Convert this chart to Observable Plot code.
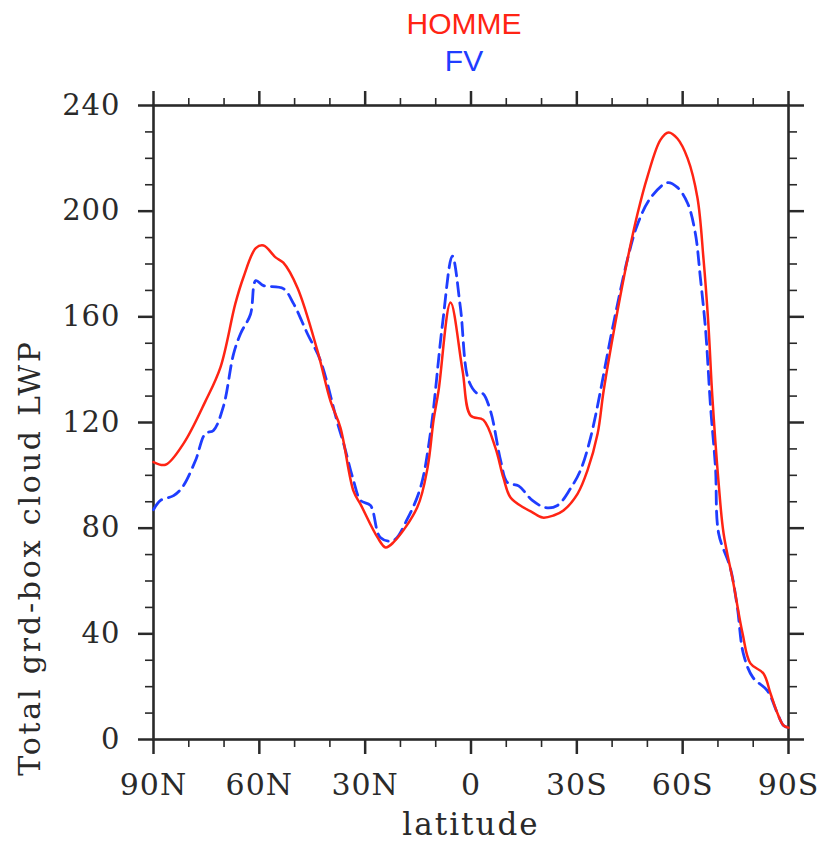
<!DOCTYPE html>
<html>
<head>
<meta charset="utf-8">
<script src="https://cdn.jsdelivr.net/npm/d3@7"></script>
<script src="https://cdn.jsdelivr.net/npm/@observablehq/plot@0.6"></script>
<style>
  html, body { margin: 0; padding: 0; background: #fff; }
</style>
</head>
<body>
<div id="chart"></div>
<script>
// HOMME (red, solid)
const hommeLat = [90, 86.6, 81.5, 75.3, 71, 66.8, 64.5, 61, 58.8, 55.4, 53.2, 49.2, 43.5, 39.8, 37, 33.3, 31.3, 26.5, 24.2, 22, 15.2, 12.3, 10.6, 9.2, 5.8, 2.4, 0.1, -3.5, -6.9, -9.2, -11.2, -14.9, -17.4, -20.3, -23.4, -26.2, -30.2, -33, -35.9, -37.6, -41.5, -44.4, -47.2, -50, -53.7, -56, -58.5, -61.4, -64.2, -65.9, -67.3, -68.4, -70.2, -71.6, -74.4, -77, -79.2, -82.9, -84.9, -86.9, -88.6, -90];
const hommeVal = [105, 104, 112, 128, 141, 165, 175, 186, 187, 182.5, 180.5, 171, 147, 128, 118, 94, 89, 76.5, 72.7, 74.6, 88, 103, 121, 132, 165.4, 139.7, 122.6, 121, 110.5, 99, 91.6, 87.8, 86, 84, 84.8, 86.7, 93, 101.8, 115.8, 132, 162, 182, 199, 213, 227, 229.8, 227.5, 220, 205, 182, 157, 130, 97, 78, 59, 40, 28.8, 25, 17.4, 9.8, 5.3, 4.5];

// FV (blue, dashed)
const fvLat = [90, 88, 84.3, 81.8, 78.1, 75.3, 73, 70.2, 67.3, 65.3, 62.5, 61, 58.8, 53.2, 50.3, 46.4, 42.7, 37.8, 36.1, 33.3, 31.3, 28.5, 25.7, 22, 18, 14.3, 11.5, 8.1, 5.3, 3, 0.7, -1.8, -3.3, -5.5, -8.4, -10.3, -13.5, -17.4, -21.1, -24.5, -28.2, -31, -33.9, -40.4, -44.4, -47.2, -50.9, -55.7, -58.5, -61.4, -63.6, -65, -66.5, -67.9, -69.3, -70.2, -73.5, -75.5, -77.2, -79.9, -84, -86.9, -88.6, -90];
const fvVal = [87, 90.5, 92.3, 95.5, 105.6, 115.8, 117, 126, 146, 153.7, 161, 173.7, 171.8, 170.7, 165, 153.7, 143.5, 119.6, 112, 98, 90.5, 88.6, 76.5, 75.3, 83.6, 95.5, 116, 157, 183, 163.5, 136, 131, 131, 124.5, 105.6, 97.3, 96, 90.5, 87.8, 88.6, 95, 101.8, 114.3, 157.5, 182, 195, 205, 210.8, 209, 203, 191.5, 175, 155, 126, 103, 78, 65, 50, 32.5, 23.5, 18.5, 9.8, 5.3, 4.5];

// Axis ticks
const xTickValues = [90, 60, 30, 0, -30, -60, -90];
const xTickLabels = ["90N", "60N", "30N", "0", "30S", "60S", "90S"];
const xMinorTicks = [80, 70, 50, 40, 20, 10, -10, -20, -40, -50, -70, -80];
const yTickValues = [0, 40, 80, 120, 160, 200, 240];
const yMinorTicks = [10, 20, 30, 50, 60, 70, 90, 100, 110, 130, 140, 150, 170, 180, 190, 210, 220, 230];

const titles = ["HOMME", "FV"];
const xLabel = "latitude";
const yLabel = "Total grd-box cloud LWP";

const RED = "#ff2414";
const BLUE = "#1f3dff";
const INK = "#2a2a2a";

const homme = hommeLat.map((lat, i) => ({lat, v: hommeVal[i]}));
const fv = fvLat.map((lat, i) => ({lat, v: fvVal[i]}));

const serif = "DejaVu Serif";
const blank = () => "";

const chart = Plot.plot({
  width: 818,
  height: 843,
  marginLeft: 153,
  marginRight: 30,
  marginTop: 105,
  marginBottom: 104,
  x: {domain: [90, -90]},
  y: {domain: [0, 240]},
  style: {fontFamily: serif, color: INK, background: "#fff", overflow: "visible"},
  marks: [
    // bottom axis
    Plot.axisX({ticks: xTickValues, tickSize: 15, tickPadding: 19, strokeWidth: 2.5, fontSize: 30,
      tickFormat: d => xTickLabels[xTickValues.indexOf(d)], label: null}),
    Plot.axisX({ticks: xMinorTicks, tickSize: 8, strokeWidth: 1.6, tickFormat: blank, label: null}),
    // top axis
    Plot.axisX({anchor: "top", ticks: xTickValues, tickSize: 15, strokeWidth: 2.5, tickFormat: blank, label: null}),
    Plot.axisX({anchor: "top", ticks: xMinorTicks, tickSize: 8, strokeWidth: 1.6, tickFormat: blank, label: null}),
    // left axis
    Plot.axisY({ticks: yTickValues, tickSize: 15, tickPadding: 18, strokeWidth: 2.5, fontSize: 29, label: null}),
    Plot.axisY({ticks: yMinorTicks, tickSize: 8, strokeWidth: 1.6, tickFormat: blank, label: null}),
    // right axis
    Plot.axisY({anchor: "right", ticks: yTickValues, tickSize: 15, strokeWidth: 2.5, tickFormat: blank, label: null}),
    Plot.axisY({anchor: "right", ticks: yMinorTicks, tickSize: 8, strokeWidth: 1.6, tickFormat: blank, label: null}),
    Plot.frame({stroke: INK, strokeWidth: 2.6}),
    Plot.line(fv, {x: "lat", y: "v", stroke: BLUE, strokeWidth: 2.8, strokeDasharray: "13,7", curve: "catmull-rom"}),
    Plot.line(homme, {x: "lat", y: "v", stroke: RED, strokeWidth: 2.5, curve: "catmull-rom"}),
    // titles
    Plot.text([titles[0]], {text: d => d, frameAnchor: "top", dx: -7, dy: -81, lineAnchor: "middle",
      fill: RED, fontSize: 30, fontFamily: "Liberation Sans"}),
    Plot.text([titles[1]], {text: d => d, frameAnchor: "top", dx: -7, dy: -44, lineAnchor: "middle",
      fill: BLUE, fontSize: 30, fontFamily: "Liberation Sans"}),
    // axis labels
    Plot.text([xLabel], {text: d => d, frameAnchor: "bottom", dy: 86, lineAnchor: "middle",
      fill: INK, fontSize: 31, fontFamily: serif}),
    Plot.text([yLabel], {text: d => d, frameAnchor: "left", textAnchor: "middle", dx: -123, dy: 135, rotate: -90, lineAnchor: "middle",
      fill: INK, fontSize: 30, fontFamily: serif})
  ]
});

document.getElementById("chart").appendChild(chart);

// spacing tweaks to mimic the wide NCL font
d3.select(chart).selectAll("text").each(function() {
  const t = this.textContent;
  if (t === yLabel) this.setAttribute("letter-spacing", "2.8");
  else if (t === xLabel) this.setAttribute("letter-spacing", "2");
  else if (xTickLabels.includes(t) || yTickValues.map(String).includes(t)) this.setAttribute("letter-spacing", "1");
});
</script>
</body>
</html>
